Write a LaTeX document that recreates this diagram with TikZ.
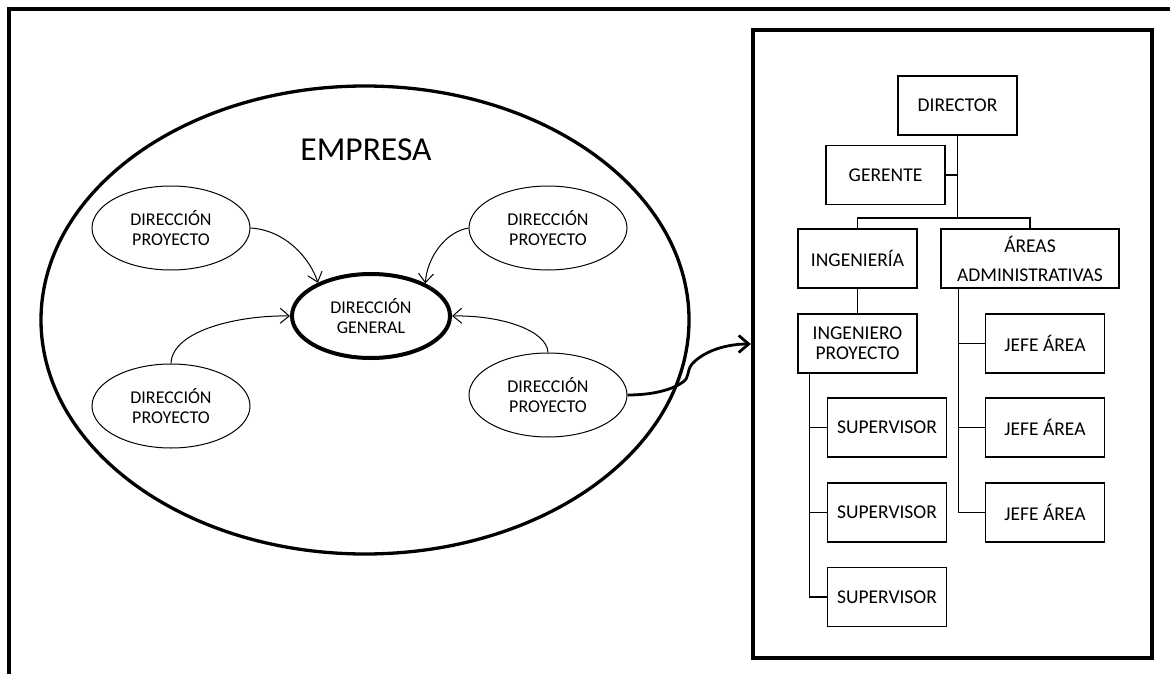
\documentclass[tikz,border=0pt]{standalone}
\usepackage{fontspec}
\setmainfont{Carlito}
\usetikzlibrary{shapes.geometric,arrows.meta}
\begin{document}
\begin{tikzpicture}[x=1pt,y=-1pt,
  ell/.style={draw, ellipse, line width=1pt, minimum width=158pt, minimum height=84pt, inner sep=0pt, align=center, font=\fontsize{18}{20}\selectfont},
  obox/.style={draw, rectangle, line width=1.2pt, minimum width=119pt, minimum height=59pt, inner sep=0pt, align=center, font=\fontsize{19.5}{20}\selectfont},
  conn/.style={line width=1.2pt},
  arr/.style={line width=1pt, -{Straight Barb[length=9pt,width=15pt]}},
]
\useasboundingbox (0,0) rectangle (1170,674);
% outer frame (only top and left visible)
\draw[line width=3.3pt] (1175,9) -- (9,9) -- (9,680);

% big ellipse
\node[draw, ellipse, line width=3.3pt, minimum width=648pt, minimum height=468pt, inner sep=0pt] (emp) at (365,320) {};
\node[font=\fontsize{33.5}{36}\selectfont] (emptxt) at (366,150) {EMPRESA};

% ellipses
\node[ell] (dp1) at (171,228) {DIRECCIÓN\\PROYECTO};
\node[ell] (dp2) at (548,228) {DIRECCIÓN\\PROYECTO};
\node[ell] (dp3) at (171,406) {DIRECCIÓN\\PROYECTO};
\node[ell] (dp4) at (548,395) {DIRECCIÓN\\PROYECTO};
\node[ell, line width=4pt, minimum width=158pt, minimum height=84pt] (dg) at (371,316) {DIRECCIÓN\\GENERAL};

\draw[arr] (dp1.east) .. controls (285,230) and (310,258) .. (dg.148);
\draw[arr] (dp2.west) .. controls (445,232) and (427,258) .. (dg.31);
\draw[arr] (dp3.north) .. controls (172,330) and (240,315) .. (dg.west);
\draw[arr] (dp4.north) .. controls (547,330) and (500,315) .. (dg.east);

% right box
\node[draw, line width=4.3pt, minimum width=399pt, minimum height=628pt, inner sep=0pt] (org) at (952.5,344) {};

\draw[line width=2.8pt, -{Straight Barb[length=10pt,width=17pt]}] (dp4.east) .. controls (652,395) and (672,390) .. (683,382) .. controls (690,377) and (686,372) .. (692,364) .. controls (705,350) and (728,344) .. (org.west);

% org chart
\node[obox] (dir) at (957.5,105.5) {DIRECTOR};
\node[obox] (ger) at (885.5,175) {GERENTE};
\node[obox] (ing) at (857.5,258.5) {INGENIERÍA};
\node[obox, minimum width=178pt, font=\fontsize{19.5}{29}\selectfont] (areas) at (1030,258.5) {ÁREAS\\ADMINISTRATIVAS};
\node[obox] (ingp) at (857.5,343.5) {INGENIERO\\PROYECTO};
\node[obox] (sup1) at (887,427.5) {SUPERVISOR};
\node[obox] (sup2) at (887,512.5) {SUPERVISOR};
\node[obox] (sup3) at (887,597) {SUPERVISOR};
\node[obox] (jefe1) at (1045,343.5) {JEFE ÁREA};
\node[obox] (jefe2) at (1045,427.5) {JEFE ÁREA};
\node[obox] (jefe3) at (1045,512.5) {JEFE ÁREA};

\coordinate (barc) at (957.5,218);
\draw[conn] (dir.south) -- (barc);
\draw[conn] (ger.east) -- (ger.east -| dir.south);
\draw[conn] (ing.north) -- (ing.north |- barc) -- (areas.north |- barc) -- (areas.north);
\draw[conn] (ing.south) -- (ingp.north);
\draw[conn] ([xshift=12pt]ingp.south west) |- (sup1.west);
\draw[conn] ([xshift=12pt]ingp.south west) |- (sup2.west);
\draw[conn] ([xshift=12pt]ingp.south west) |- (sup3.west);
\draw[conn] ([xshift=18pt]areas.south west) |- (jefe1.west);
\draw[conn] ([xshift=18pt]areas.south west) |- (jefe2.west);
\draw[conn] ([xshift=18pt]areas.south west) |- (jefe3.west);
\end{tikzpicture}
\end{document}
